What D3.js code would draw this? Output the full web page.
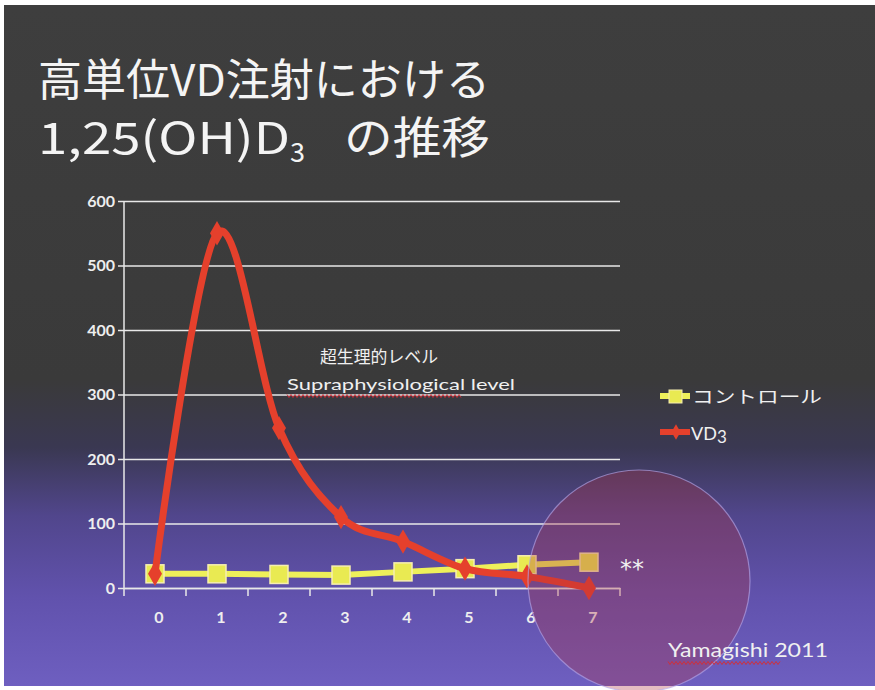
<!DOCTYPE html>
<html>
<head>
<meta charset="utf-8">
<script src="https://cdn.jsdelivr.net/npm/d3@7"></script>
<style>
  html, body { margin: 0; padding: 0; background: #ffffff; }
  svg { display: block; }
</style>
</head>
<body>
<svg id="chart" width="875" height="690"></svg>
<script>
// Days after injection
const days = [0, 1, 2, 3, 4, 5, 6, 7];
// 1,25(OH)D3 levels
const controlValues = [22, 22, 21, 20, 25, 30, 36, 40];
const vd3Values = [22, 550, 248, 110, 72, 30, 18, 0];
const yTicks = [0, 100, 200, 300, 400, 500, 600];
const seriesNames = ["コントロール", "VD"];

(function () {
const svg = d3.select("#chart");
const W = 875, H = 690;

// Slide background: dark grey fading into violet towards the bottom
const defs = svg.append("defs");
const bg = defs.append("linearGradient").attr("id", "bg")
  .attr("x1", 0).attr("y1", 0).attr("x2", 0).attr("y2", 1);
[["0%", "#3e3e3e"], ["55%", "#3a3a3a"], ["65%", "#3a3852"], ["75%", "#51468c"],
 ["87%", "#6152ad"], ["100%", "#6e5fc0"]]
  .forEach(([o, c]) => bg.append("stop").attr("offset", o).attr("stop-color", c));

svg.append("rect").attr("x", 4).attr("y", 5).attr("width", W - 4).attr("height", 681)
  .attr("fill", "url(#bg)");

// Title
const title = svg.append("g").attr("fill", "#f4f4f4")
  .style("font-family", "'Noto Sans CJK JP', sans-serif").style("font-size", "44px");
title.append("text").attr("x", 38).attr("y", 96)
  .attr("textLength", 452).attr("lengthAdjust", "spacingAndGlyphs")
  .text("高単位VD注射における");
const t2 = title.append("text").attr("y", 154);
t2.append("tspan").attr("x", 38).attr("textLength", 252).attr("lengthAdjust", "spacingAndGlyphs")
  .text("1,25(OH)D");
t2.append("tspan").attr("dy", 8).style("font-size", "27px").text("3");
t2.append("tspan").attr("x", 344).attr("dy", -8).attr("textLength", 146)
  .attr("lengthAdjust", "spacingAndGlyphs").text("の推移");

// Plot area
const pLeft = 124, pRight = 620, pTop = 201, pBottom = 588;
const x = d3.scaleBand().domain(days).range([pLeft, pRight]);
const y = d3.scaleLinear().domain([0, 600]).range([pBottom, pTop]);
const cx = d => x(d) + x.bandwidth() / 2;

const axisFont = "'Lato', 'Open Sans', sans-serif";

// Gridlines and y axis labels
const yAxis = svg.append("g").attr("transform", `translate(${pLeft},0)`)
  .call(d3.axisLeft(y).tickValues(yTicks).tickSize(-(pRight - pLeft)).tickPadding(9));
yAxis.select(".domain").remove();
yAxis.selectAll(".tick line").attr("stroke", "#e8e8e8").attr("stroke-width", 1.3)
  .attr("x1", -6);
yAxis.selectAll(".tick text").attr("fill", "#eeeeee")
  .style("font-family", axisFont).style("font-size", "16px").style("font-weight", "bold");

// Vertical axis line
svg.append("line").attr("x1", pLeft).attr("x2", pLeft).attr("y1", pTop).attr("y2", pBottom + 8)
  .attr("stroke", "#e8e8e8").attr("stroke-width", 1.5);

// X axis with tick marks between categories
const xAxis = svg.append("g").attr("transform", `translate(0,${pBottom})`)
  .call(d3.axisBottom(x).tickSize(0).tickPadding(24));
xAxis.select(".domain").attr("stroke", "#e8e8e8").attr("stroke-width", 1.5);
xAxis.selectAll(".tick text").attr("fill", "#eeeeee").attr("dx", 4)
  .style("font-family", axisFont).style("font-size", "16px").style("font-weight", "bold");
svg.append("g").selectAll("line").data(days.map(d => x(d) + x.bandwidth()))
  .join("line")
  .attr("x1", d => d).attr("x2", d => d).attr("y1", pBottom).attr("y2", pBottom + 8)
  .attr("stroke", "#e8e8e8").attr("stroke-width", 1.5);

// Control series
const ctrlLine = d3.line().x((d, i) => cx(days[i])).y(d => y(d));
svg.append("path").datum(controlValues).attr("d", ctrlLine)
  .attr("fill", "none").attr("stroke", "#eef05a").attr("stroke-width", 6);
svg.append("g").selectAll("rect").data(controlValues).join("rect")
  .attr("x", (d, i) => cx(days[i]) - 9).attr("y", d => y(d) - 9)
  .attr("width", 18).attr("height", 18)
  .attr("fill", "#e9ea52").attr("stroke", "#f6eeb0").attr("stroke-width", 1.5);

// VD3 series, smoothed
const vdLine = d3.line().x((d, i) => cx(days[i])).y(d => y(d)).curve(d3.curveCatmullRom.alpha(0));
svg.append("path").datum(vd3Values).attr("d", vdLine)
  .attr("fill", "none").attr("stroke", "#e5402c").attr("stroke-width", 7)
  .attr("stroke-linejoin", "round");
const diamond = d3.symbol().type(d3.symbolDiamond).size(170);
svg.append("g").selectAll("path").data(vd3Values).join("path")
  .attr("transform", (d, i) => `translate(${cx(days[i])},${y(d)})`)
  .attr("d", diamond).attr("fill", "#e5402c");

// Highlight circle over the late time points
svg.append("circle").attr("cx", 639).attr("cy", 581).attr("r", 111)
  .attr("fill", "rgba(175,50,65,0.32)").attr("stroke", "rgba(180,165,230,0.65)")
  .attr("stroke-width", 1.2);

// Significance mark
svg.append("text").attr("x", cx(7) + 31).attr("y", y(controlValues[7]) + 15)
  .attr("fill", "#f0f0f0").style("font-family", "'DejaVu Sans', sans-serif")
  .style("font-size", "24px").text("**");

// Annotation
const ann = svg.append("g").attr("fill", "#f0f0f0");
ann.append("text").attr("x", 320).attr("y", 363)
  .style("font-family", "'Noto Sans CJK JP', sans-serif").style("font-size", "17px")
  .attr("textLength", 118).attr("lengthAdjust", "spacingAndGlyphs")
  .text("超生理的レベル");
ann.append("text").attr("x", 287).attr("y", 390)
  .style("font-family", axisFont).style("font-size", "15px")
  .attr("textLength", 228).attr("lengthAdjust", "spacingAndGlyphs")
  .text("Supraphysiological level");

// Wavy spell-check underline
function wavy(x0, x1, yy) {
  const pts = [];
  for (let xx = x0, k = 0; xx <= x1; xx += 2, k++) pts.push([xx, yy + (k % 2 ? 1.5 : -1.5)]);
  return d3.line()(pts);
}
svg.append("path").attr("d", wavy(287, 462, 396))
  .attr("fill", "none").attr("stroke", "#d0303a").attr("stroke-width", 1);

// Legend
const leg = svg.append("g");
leg.append("line").attr("x1", 660).attr("x2", 690).attr("y1", 396).attr("y2", 396)
  .attr("stroke", "#eef05a").attr("stroke-width", 6);
leg.append("rect").attr("x", 669).attr("y", 390).attr("width", 13).attr("height", 13)
  .attr("fill", "#e9ea52").attr("stroke", "#f6eeb0").attr("stroke-width", 1);
leg.append("text").attr("x", 692).attr("y", 403).attr("fill", "#f0f0f0")
  .style("font-family", "'Noto Sans CJK JP', sans-serif").style("font-size", "17px")
  .attr("textLength", 130).attr("lengthAdjust", "spacingAndGlyphs")
  .text(seriesNames[0]);
leg.append("line").attr("x1", 660).attr("x2", 690).attr("y1", 432).attr("y2", 432)
  .attr("stroke", "#e5402c").attr("stroke-width", 6);
leg.append("path").attr("transform", "translate(676,432)")
  .attr("d", d3.symbol().type(d3.symbolDiamond).size(70)).attr("fill", "#e5402c");
const vdLabel = leg.append("text").attr("x", 691).attr("y", 440).attr("fill", "#f0f0f0")
  .style("font-family", axisFont).style("font-size", "18px");
vdLabel.append("tspan").text(seriesNames[1]);
vdLabel.append("tspan").attr("dy", 3).style("font-size", "17px").text("3");

// Source
svg.append("text").attr("x", 668).attr("y", 657).attr("fill", "#f0f0f0")
  .style("font-family", axisFont).style("font-size", "19px")
  .attr("textLength", 160).attr("lengthAdjust", "spacingAndGlyphs")
  .text("Yamagishi 2011");
svg.append("path").attr("d", wavy(668, 780, 663))
  .attr("fill", "none").attr("stroke", "#d0303a").attr("stroke-width", 1);
})();
</script>
</body>
</html>
